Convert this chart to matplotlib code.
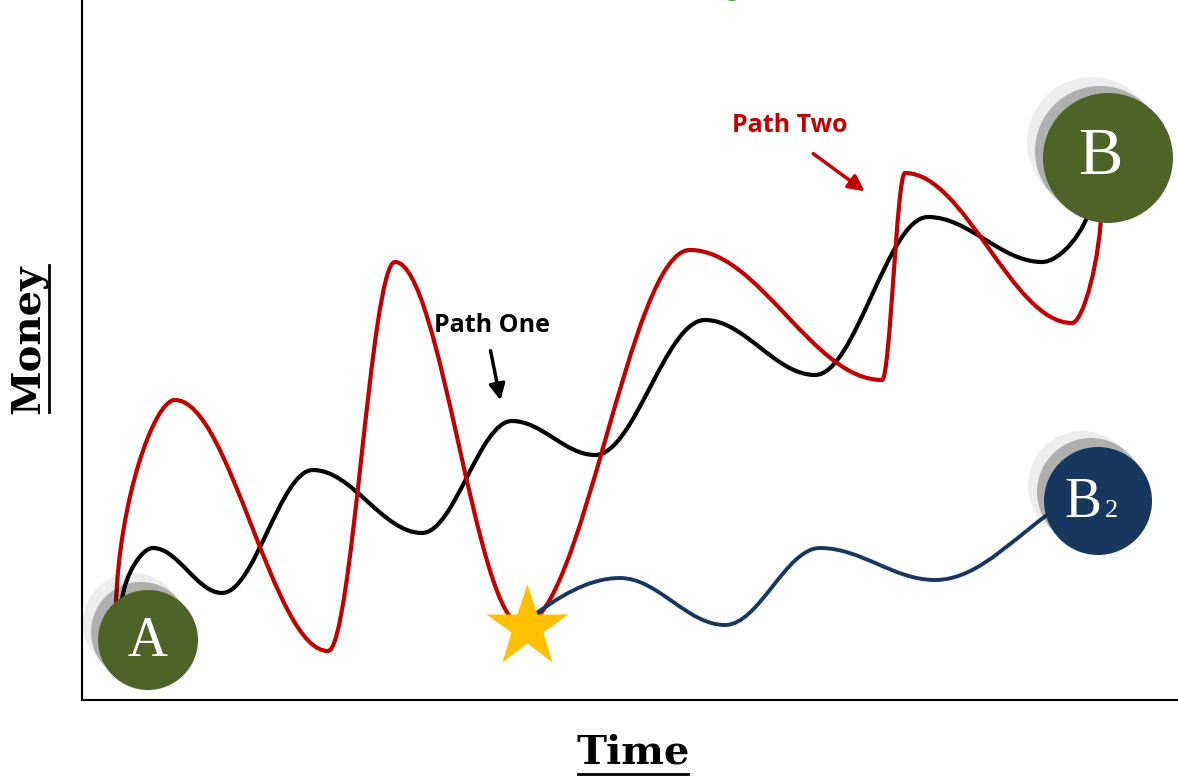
import matplotlib
matplotlib.use("Agg")
import matplotlib.pyplot as plt
from matplotlib.path import Path
from matplotlib.patches import PathPatch, Circle
from matplotlib.lines import Line2D

# turning points of each path (time, money)
path_one_t = [40, 71, 140, 231, 340, 430, 513, 623, 733, 846, 960, 1010]
path_one_m = [100, 152, 107, 230, 167, 279, 245, 380, 325, 483, 438, 500]

path_two_t = [34, 93, 246, 313, 440, 608, 800, 823, 990, 1020]
path_two_m = [95, 300, 49, 438, 75, 450, 320, 527, 377, 500]

path_b2_t = [448, 538, 643, 738, 853, 983]
path_b2_m = [82, 122, 75, 152, 120, 197]

star_pos = (445, 73)
nodes = {"A": (66, 60, 50), "B": (1026, 542, 65), "B2": (1016, 199, 54)}

GREEN = "#4F6228"
NAVY = "#17375E"
RED = "#C00000"
GOLD = "#FFC000"


def smooth_path(ts, ms, start_h, end_h, k=0.36):
    verts = [(ts[0], ms[0])]
    codes = [Path.MOVETO]
    n = len(ts)
    for i in range(n - 1):
        x0, y0, x1, y1 = ts[i], ms[i], ts[i + 1], ms[i + 1]
        dx, dy = x1 - x0, y1 - y0
        c1 = (x0 + start_h[0] * dx, y0 + start_h[1] * dy) if i == 0 else (x0 + k * dx, y0)
        c2 = (x1 - end_h[0] * dx, y1 - end_h[1] * dy) if i == n - 2 else (x1 - k * dx, y1)
        verts += [c1, c2, (x1, y1)]
        codes += [Path.CURVE4] * 3
    return Path(verts, codes)


fig = plt.figure(figsize=(11.78, 7.78), dpi=100)
ax = fig.add_axes([82 / 1178, 78 / 778, 1096 / 1178, 700 / 778])
ax.set_xlim(0, 1096)
ax.set_ylim(0, 700)
for s in ["top", "right"]:
    ax.spines[s].set_visible(False)
for s in ["left", "bottom"]:
    ax.spines[s].set_linewidth(1.5)
ax.set_xticks([])
ax.set_yticks([])

ax.add_patch(PathPatch(smooth_path(path_one_t, path_one_m, (0.1, 0.5), (0.1, 0.5)),
                       fill=False, ec="black", lw=3, capstyle="round", zorder=2))
ax.add_patch(PathPatch(smooth_path(path_two_t, path_two_m, (0.05, 0.5), (0.05, 0.5)),
                       fill=False, ec=RED, lw=3, capstyle="round", zorder=3))
ax.add_patch(PathPatch(smooth_path(path_b2_t, path_b2_m, (0.3, 0.5), (0.35, 0.35)),
                       fill=False, ec=NAVY, lw=2.8, capstyle="round", zorder=3))

ax.plot(*star_pos, marker="*", ms=62, color=GOLD, mec="none", zorder=5, clip_on=False)

shadow_offsets = {"A": [(-15, 17), (-7, 8)], "B": [(-16, 16), (-8, 7)], "B2": [(-16, 16), (-7, 9)]}
for name, (x, y, r) in nodes.items():
    (lx, ly), (gx, gy) = shadow_offsets[name]
    ax.add_patch(Circle((x + lx, y + ly), r, fc="black", alpha=0.07, ec="none", zorder=6, clip_on=False))
    ax.add_patch(Circle((x + gx, y + gy), r, fc="black", alpha=0.26, ec="none", zorder=6, clip_on=False))
    ax.add_patch(Circle((x, y), r, fc=NAVY if name == "B2" else GREEN, ec="none", zorder=7, clip_on=False))

ax.text(nodes["A"][0], nodes["A"][1] - 2, "A", color="white", fontsize=40, family="Liberation Serif",
        ha="center", va="center", zorder=8)
ax.text(nodes["B"][0] - 8, nodes["B"][1], "B", color="white", fontsize=48, family="Liberation Serif",
        ha="center", va="center", zorder=8)
ax.text(nodes["B2"][0] + 3, nodes["B2"][1] - 16, "B", color="white", fontsize=40, family="Liberation Serif",
        ha="right", va="baseline", zorder=8)
ax.text(nodes["B2"][0] + 7, nodes["B2"][1] - 16, "2", color="white", fontsize=19, family="Liberation Serif",
        ha="left", va="baseline", zorder=8)

ax.add_patch(Circle((650, 710), 11, fc="#3A9A3C", ec="none", clip_on=False, zorder=1))

ax.text(410, 374, "Path One", fontsize=18, fontweight="bold", family="Open Sans",
        ha="center", va="center", color="black")
ax.annotate("", xy=(419, 297), xytext=(408, 352),
            arrowprops=dict(arrowstyle="-|>", color="black", lw=2.5, mutation_scale=24))
ax.text(708, 575, "Path Two", fontsize=18, fontweight="bold", family="Open Sans",
        ha="center", va="center", color=RED)
ax.annotate("", xy=(785, 507), xytext=(729, 548),
            arrowprops=dict(arrowstyle="-|>", color=RED, lw=2.5, mutation_scale=24))

fig.text(633 / 1178, 1 - 752 / 778, "Time", fontsize=29, fontweight="bold", family="DejaVu Serif",
         ha="center", va="center")
fig.add_artist(Line2D([578 / 1178, 688 / 1178], [1 - 774 / 778] * 2, color="black", lw=2))
fig.text(28 / 1178, 1 - 339 / 778, "Money", fontsize=29, fontweight="bold", family="DejaVu Serif",
         rotation=90, ha="center", va="center")
fig.add_artist(Line2D([49 / 1178] * 2, [1 - 265 / 778, 1 - 412 / 778], color="black", lw=2))

fig.savefig("out.png", dpi=100)
